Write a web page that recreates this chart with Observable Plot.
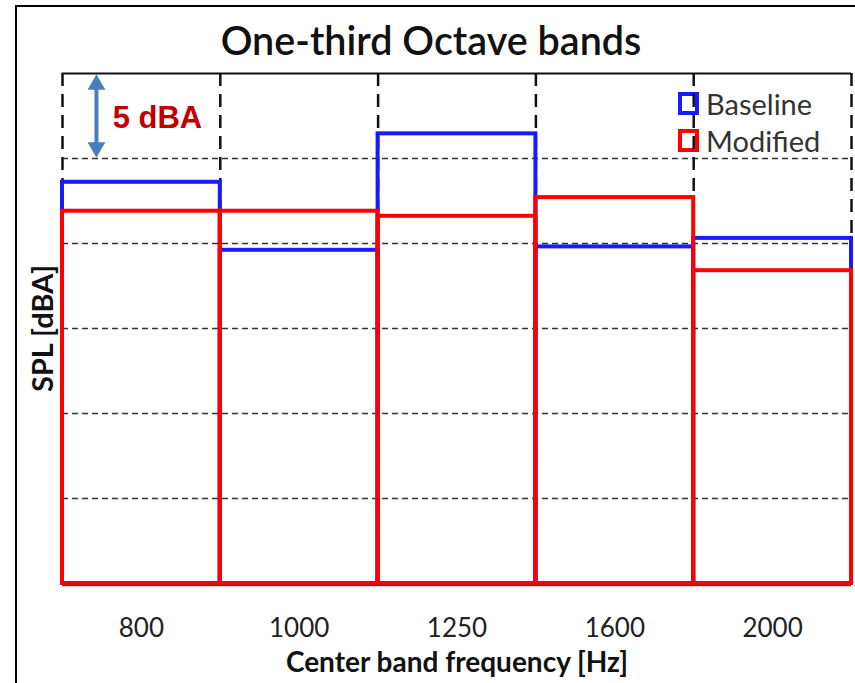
<!DOCTYPE html>
<html>
<head>
<meta charset="utf-8">
<script src="https://cdn.jsdelivr.net/npm/d3@7"></script>
<script src="https://cdn.jsdelivr.net/npm/@observablehq/plot@0.6"></script>
<style>
  body { margin: 0; background: #fff; }
  #wrap { position: relative; width: 855px; height: 683px; overflow: hidden; }
  #border { position: absolute; left: 15px; top: 5px; width: 900px; height: 800px; border: 2.5px solid #000; box-sizing: border-box; }
  #title { position: absolute; left: 0; width: 862px; top: 16px; text-align: center; font-family: Lato, sans-serif; font-weight: 600; font-size: 39.5px; color: #111; }
  #legend { position: absolute; left: 678px; top: 85px; font-family: Lato, sans-serif; font-size: 29px; color: #333; }
  .item { display: flex; align-items: center; height: 37px; }
  .sw { width: 13px; height: 15px; border: 4px solid; margin-right: 7px; }
  svg { position: absolute; left: 0; top: 0; }
</style>
</head>
<body>
<div id="wrap">
  <div id="border"></div>
  <div id="title">One-third Octave bands</div>
  <div id="legend"></div>
</div>
<script>
// Data (relative SPL, dBA above the bottom of the axis)
const bands = ["800", "1000", "1250", "1600", "2000"];
const baseline = [23.6, 19.6, 26.45, 19.8, 20.3];
const modified = [21.9, 21.9, 21.6, 22.7, 18.4];
const seriesNames = ["Baseline", "Modified"];
const seriesColors = ["#1a1aff", "#ff0000"];
const yGrid = [5, 10, 15, 20, 25];

const rows = (vals) => vals.map((v, i) => ({i, band: bands[i], value: v}));
const baseRows = rows(baseline);
const modRows = rows(modified);
const edges = d3.range(bands.length + 1);
const centers = bands.map((_, i) => i + 0.5);

const chart = Plot.plot({
  width: 855,
  height: 683,
  marginLeft: 62,
  marginRight: 4,
  marginTop: 73,
  marginBottom: 100,
  x: {domain: [0, bands.length], axis: null},
  y: {domain: [0, 30], axis: null},
  style: {fontFamily: "Lato, sans-serif", background: "transparent"},
  marks: [
    Plot.ruleY(yGrid, {stroke: "#333", strokeWidth: 1.5, strokeDasharray: "6,4"}),
    Plot.ruleX(edges, {stroke: "#111", strokeWidth: 2.5, strokeDasharray: "13,8"}),
    Plot.ruleY([30], {stroke: "#111", strokeWidth: 2}),
    Plot.rectY(baseRows, {x1: "i", x2: d => d.i + 1, y1: 0, y2: "value", fill: "none", stroke: seriesColors[0], strokeWidth: 4}),
    Plot.rectY(modRows, {x1: "i", x2: d => d.i + 1, y1: 0, y2: "value", fill: "none", stroke: seriesColors[1], strokeWidth: 4}),
    Plot.ruleY([0], {stroke: "#444", strokeWidth: 1.5, dy: 2}),
    Plot.axisX({ticks: centers, tickFormat: d => bands[Math.floor(d)], tickSize: 0, tickPadding: 35, fontSize: 26, label: null, fill: "#222"}),
    Plot.text(["Center band frequency [Hz]"], {frameAnchor: "bottom", dy: 88, fontSize: 28, fontWeight: "bold", fill: "#111"}),
    Plot.text(["SPL [dBA]"], {frameAnchor: "left", textAnchor: "middle", dx: -19, rotate: -90, fontSize: 29, fontWeight: "bold", fill: "#111"}),
    // 5 dBA scale annotation
    Plot.ruleX([0.215], {y1: 25.8, y2: 29.2, stroke: "#4a7ebb", strokeWidth: 4}),
    Plot.dot([{x: 0.215, y: 29.35, r: 0}, {x: 0.215, y: 25.65, r: 180}], {x: "x", y: "y", rotate: "r", symbol: "triangle", r: 6.6, fill: "#4a7ebb", stroke: "none"}),
    Plot.text(["5 dBA"], {x: 0.318, y: 27.35, textAnchor: "start", fontSize: 31, fontWeight: "bold", fontFamily: "Liberation Sans, Arial, sans-serif", fill: "#c00000"})
  ]
});
document.getElementById("wrap").appendChild(chart);

const legend = document.getElementById("legend");
seriesNames.forEach((name, k) => {
  const it = document.createElement("div");
  it.className = "item";
  const sw = document.createElement("span");
  sw.className = "sw";
  sw.style.borderColor = seriesColors[k];
  const t = document.createElement("span");
  t.textContent = name;
  it.appendChild(sw);
  it.appendChild(t);
  legend.appendChild(it);
});
</script>
</body>
</html>
